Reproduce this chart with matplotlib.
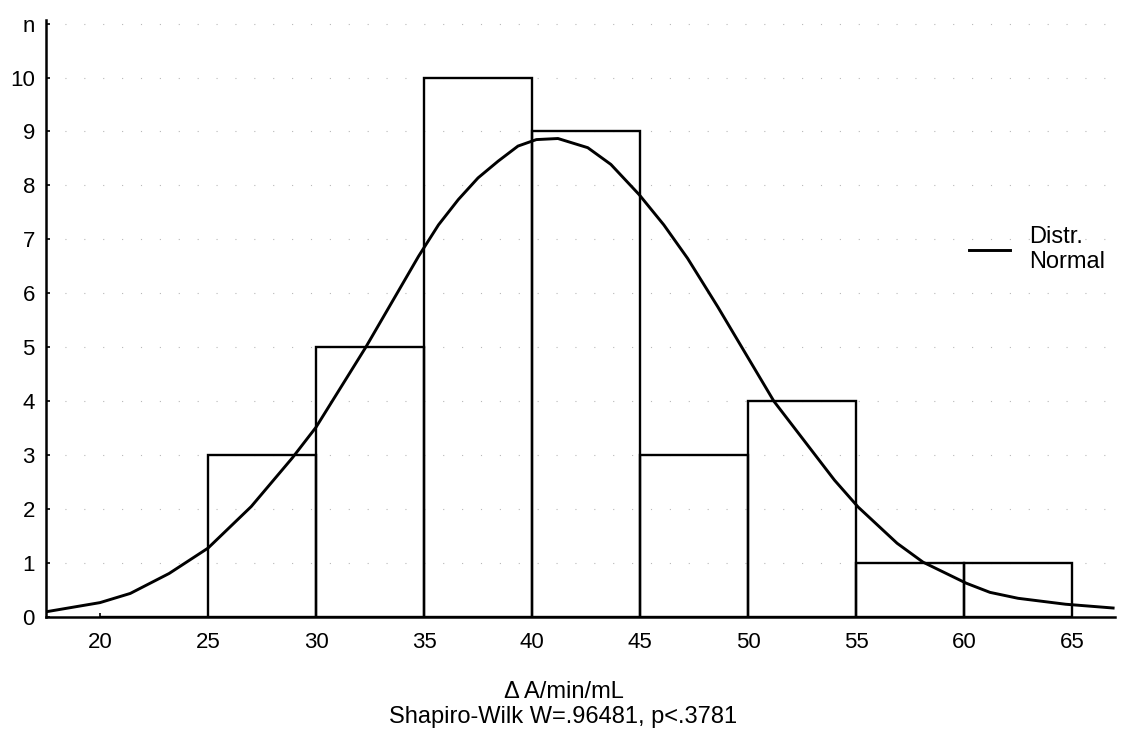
import matplotlib
matplotlib.use("Agg")
import matplotlib.pyplot as plt

plt.rcParams["font.family"] = ["Liberation Sans", "DejaVu Sans"]

# histogram bins (left edges, width 5) and counts
bin_left = [20, 25, 30, 35, 40, 45, 50, 55, 60]
counts = [0, 3, 5, 10, 9, 3, 4, 1, 1]
BIN_WIDTH = 5

# fitted normal curve
curve_x = [17.5, 20, 21.4, 23.2, 25, 27, 28.9, 30, 32.3, 34.75, 35.67,
           36.59, 37.5, 38.43, 39.35, 40.2, 41.2, 42.58, 43.65, 44.96, 46.1,
           47.2, 48.6, 51.2, 54, 55.1, 56.9, 58.1, 60.1, 61.2, 62.5, 64.7,
           66.9]
curve_y = [0.10, 0.27, 0.44, 0.81, 1.28, 2.05, 2.95, 3.52, 5.0, 6.69, 7.27,
           7.74, 8.14, 8.45, 8.73, 8.85, 8.87, 8.70, 8.39, 7.83, 7.27,
           6.65, 5.75, 4.0, 2.54, 2.04, 1.37, 1.02, 0.63, 0.46, 0.35, 0.24,
           0.17]

x_ticks = [20, 25, 30, 35, 40, 45, 50, 55, 60, 65]
y_ticks = list(range(12))
y_tick_labels = [str(v) for v in range(11)] + ["n"]

fig = plt.figure(figsize=(11.22, 7.33), dpi=100)
ax = fig.add_axes([0.041, 0.158, 0.953, 0.815])

ax.bar(bin_left, counts, width=BIN_WIDTH, align="edge", fill=False,
       edgecolor="black", linewidth=1.7, zorder=2)
ax.plot(curve_x, curve_y, color="black", linewidth=2.1, zorder=3,
        label="Distr.\nNormal")

# faint scanned-looking grid
for yv in y_ticks[1:]:
    ax.axhline(yv, color="#b8b8b8", linewidth=0.8,
               linestyle=(0, (1, 16)), zorder=1)

ax.set_xlim(17.5, 67.0)
ax.set_ylim(0, 11.07)
ax.set_xticks(x_ticks)
ax.set_yticks(y_ticks)
ax.set_yticklabels(y_tick_labels)
ax.tick_params(direction="in", length=3, width=1.2, labelsize=16)
ax.tick_params(axis="x", pad=11)
ax.tick_params(axis="y", pad=8)

ax.spines["top"].set_visible(False)
ax.spines["right"].set_visible(False)
ax.spines["left"].set_linewidth(1.8)
ax.spines["bottom"].set_linewidth(1.8)

ax.set_xlabel("\u0394 A/min/mL\nShapiro-Wilk W=.96481, p<.3781",
              fontsize=17, linespacing=1.2)
ax.xaxis.set_label_coords(0.484, -0.106, transform=ax.transAxes)
ax.xaxis.label.set_verticalalignment("top")

ax.legend(loc="upper left", bbox_to_anchor=(0.863, 0.655), frameon=False,
          fontsize=17, handlelength=1.75, handletextpad=0.8,
          borderpad=0, borderaxespad=0, labelspacing=0.1)

fig.savefig("out.png", dpi=100)
